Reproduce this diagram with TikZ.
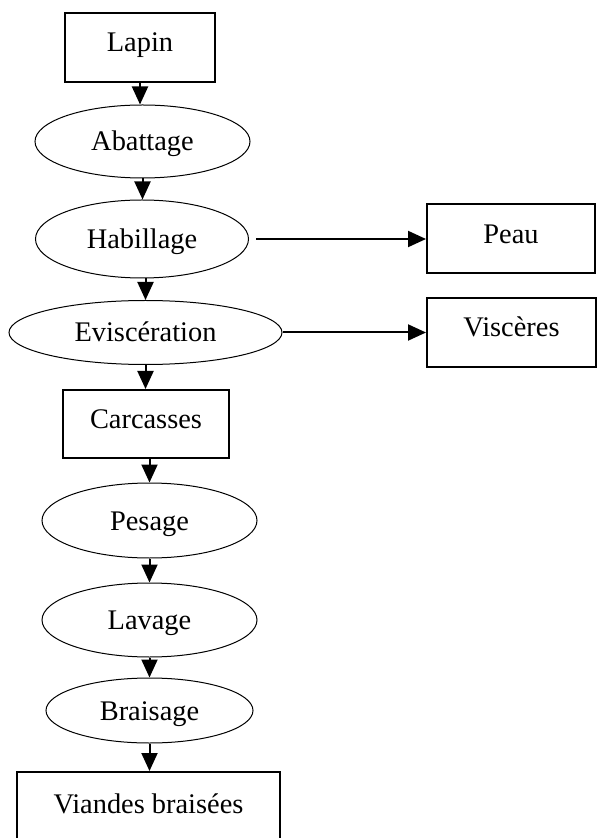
\documentclass[tikz,border=0pt]{standalone}
\usepackage{fontspec}
\setmainfont{Liberation Serif}
\usetikzlibrary{shapes.geometric,arrows.meta}
\begin{document}
\begin{tikzpicture}[x=0.5pt,y=-0.5pt,
        font=\fontsize{14.2}{17}\selectfont,
        box/.style={draw,line width=1pt,rectangle,inner sep=0pt,text height=9.5pt,text depth=5pt},
        oval/.style={draw,line width=0.5pt,ellipse,inner sep=0pt,text height=9.5pt,text depth=0pt},
        arr/.style={line width=1pt,-{Triangle[length=9pt,width=8pt]}}]
        \useasboundingbox (0,0) rectangle (596,838);

        \node[box,minimum width=75pt,minimum height=34.5pt] (lapin) at (140,47.5) {Lapin};
        \node[oval,minimum width=107.5pt,minimum height=36.5pt] (abattage) at (142.5,141.5) {Abattage};
        \node[oval,minimum width=106.5pt,minimum height=39pt] (habillage) at (142,239) {Habillage};
        \node[box,minimum width=84pt,minimum height=34.5pt] (peau) at (511,239) {Peau};
        \node[oval,minimum width=136.5pt,minimum height=32pt] (evisc) at (145.5,332.5) {Eviscération};
        \node[box,minimum width=84.5pt,minimum height=34.5pt] (visceres) at (511.5,332.5) {Viscères};
        \node[box,minimum width=83pt,minimum height=34pt] (carcasses) at (146,424) {Carcasses};
        \node[oval,minimum width=107.5pt,minimum height=37.5pt] (pesage) at (149.5,520.5) {Pesage};
        \node[oval,minimum width=107.5pt,minimum height=37pt] (lavage) at (149.5,620) {Lavage};
        \node[oval,minimum width=103.5pt,minimum height=32.5pt] (braisage) at (149.5,710.5) {Braisage};
        \node[box,minimum width=131.5pt,minimum height=37pt] (viandes) at (148.5,809) {Viandes braisées};

        \draw[arr] (lapin) -- (lapin |- abattage.north);
        \draw[arr] (abattage) -- (abattage |- habillage.north);
        \draw[arr] (habillage.south -| evisc) -- (evisc);
        \draw[arr] (evisc) -- (evisc |- carcasses.north);
        \draw[arr] (carcasses.south -| pesage) -- (pesage);
        \draw[arr] (pesage) -- (lavage);
        \draw[arr] (lavage) -- (braisage);
        \draw[arr] (braisage) -- (braisage |- viandes.north);

        \draw[arr,shorten <=3.5pt] (habillage) -- (peau);
        \draw[arr] (evisc) -- (visceres);

    \end{tikzpicture}
\end{document}
